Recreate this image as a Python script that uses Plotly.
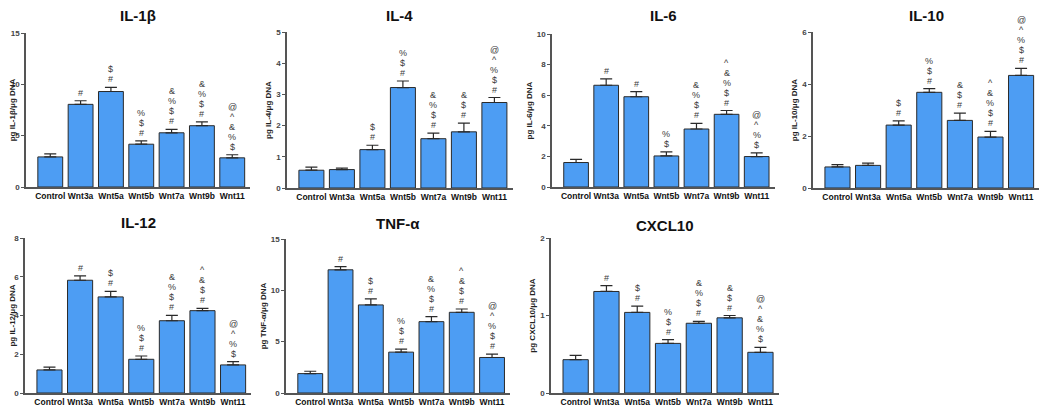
import plotly.graph_objects as go

categories = ["Control", "Wnt3a", "Wnt5a", "Wnt5b", "Wnt7a", "Wnt9b", "Wnt11"]

titles = ["IL-1β", "IL-4", "IL-6", "IL-10", "IL-12", "TNF-α", "CXCL10"]
ytitles = ["pg IL-1β/μg DNA", "pg IL-4/μg DNA", "pg IL-6/μg DNA", "pg IL-10/μg DNA",
           "pg IL-12/μg DNA", "pg TNF-α/μg DNA", "pg CXCL10/μg DNA"]

il1b = [2.93, 8.05, 9.3, 4.17, 5.28, 5.97, 2.84]
il1b_err = [0.3, 0.35, 0.4, 0.33, 0.33, 0.38, 0.3]
il4 = [0.57, 0.59, 1.23, 3.22, 1.58, 1.8, 2.74]
il4_err = [0.1, 0.05, 0.14, 0.21, 0.18, 0.28, 0.16]
il6 = [1.6, 6.65, 5.9, 2.03, 3.79, 4.75, 1.99]
il6_err = [0.2, 0.42, 0.34, 0.27, 0.37, 0.25, 0.24]
il10 = [0.81, 0.87, 2.42, 3.68, 2.6, 1.96, 4.33]
il10_err = [0.09, 0.09, 0.16, 0.14, 0.28, 0.22, 0.27]
il12 = [1.19, 5.82, 4.96, 1.74, 3.73, 4.25, 1.45]
il12_err = [0.15, 0.22, 0.29, 0.17, 0.28, 0.12, 0.17]
tnf = [1.89, 12.0, 8.58, 3.98, 6.95, 7.86, 3.46]
tnf_err = [0.23, 0.3, 0.58, 0.29, 0.48, 0.32, 0.32]
cxcl10 = [0.43, 1.31, 1.04, 0.64, 0.9, 0.97, 0.525]
cxcl10_err = [0.056, 0.075, 0.08, 0.05, 0.025, 0.03, 0.065]

# significance symbols, listed bottom-to-top
il1b_sig = ["", "#", "#$", "#$%", "#$%&", "#$%&", "$%&^@"]
il4_sig = ["", "", "#$", "#$%", "#$%&", "#$&", "#$%^@"]
il6_sig = ["", "#", "#", "$%", "#$%&", "#$%&^", "$%^@"]
il10_sig = ["", "", "#$", "#$%", "#$&", "#$%&^", "#$%^@"]
il12_sig = ["", "#", "#$", "#$%", "#$%&", "#$&^", "$%^@"]
tnf_sig = ["", "#", "#$", "#$%", "#$%&", "#$&^", "#$%^@"]
cxcl10_sig = ["", "#", "#$", "#$%", "#$%&", "#$&", "$%&^@"]

y_ticks = [[0, 5, 10, 15], [0, 1, 2, 3, 4, 5], [0, 2, 4, 6, 8, 10], [0, 2, 4, 6],
           [0, 2, 4, 6, 8], [0, 5, 10, 15], [0, 1, 2]]

values = [il1b, il4, il6, il10, il12, tnf, cxcl10]
errors = [il1b_err, il4_err, il6_err, il10_err, il12_err, tnf_err, cxcl10_err]
sigs = [il1b_sig, il4_sig, il6_sig, il10_sig, il12_sig, tnf_sig, cxcl10_sig]

# the page body adds an 8px margin, so the figure is laid out offset by it
OFF = 8
W, H = 1050 - OFF, 412 - OFF
# pixel layout in page coords: (axis x, step px, top px, bottom px)
panels = [(26, 30.33, 33, 187), (287, 30.5, 32, 188), (552, 30.1, 34, 187), (813, 30.6, 32, 188),
          (25, 30.6, 238, 393), (286, 30.3, 239, 393), (551, 30.8, 238, 393)]
title_y = [15, 15, 15, 15, 222, 223, 225]
XR = [-0.8, 6.6]

FONT = "Liberation Sans, Arial, sans-serif"
BAR = "#4d9df3"
AX = "#555555"

fig = go.Figure()
layout = dict(
    width=W, height=H, margin=dict(l=0, r=0, t=0, b=0, autoexpand=False),
    paper_bgcolor="white", plot_bgcolor="white", showlegend=False,
    font=dict(family=FONT, color="#222"),
)
annotations = []

for i in range(7):
    x0, step, top, bot = panels[i]
    x0 -= OFF
    top -= OFF
    bot -= OFF
    x1 = x0 + step * (XR[1] - XR[0])
    n = i + 1
    xa = "x" if n == 1 else f"x{n}"
    ya = "y" if n == 1 else f"y{n}"
    fig.add_trace(go.Bar(
        x=categories, y=values[i], xaxis=xa, yaxis=ya, width=0.82,
        marker=dict(color=BAR, line=dict(color="#2a2a2a", width=1)),
        error_y=dict(type="data", array=errors[i], arrayminus=[0] * 7, symmetric=False,
                     color="#2a2a2a", thickness=1.2, width=6),
    ))
    layout[f"xaxis{n if n > 1 else ''}"] = dict(
        domain=[x0 / W, x1 / W], anchor=ya, range=XR, type="category",
        showline=True, linecolor=AX, linewidth=1.5, ticks="", showgrid=False,
        tickangle=0, automargin=False,
        tickfont=dict(size=8.5, family=FONT, color="#111", weight="bold"),
        fixedrange=True,
    )
    yt = y_ticks[i]
    layout[f"yaxis{n if n > 1 else ''}"] = dict(
        domain=[1 - bot / H, 1 - top / H], anchor=xa, range=[0, yt[-1]],
        tickvals=yt, showline=True, linecolor=AX, linewidth=1.5, ticks="outside",
        ticklen=3, tickcolor=AX, tickwidth=1.2, showgrid=False, zeroline=False,
        automargin=False,
        tickfont=dict(size=8, family=FONT, color="#444", weight="bold"),
        title=dict(text=ytitles[i], standoff=3,
                   font=dict(size=8, family=FONT, color="#222", weight="bold")),
    )
    # panel title
    annotations.append(dict(
        text=titles[i], xref="paper", yref="paper",
        x=(x0 + x1) / 2 / W, y=1 - (title_y[i] - OFF) / H, xanchor="center", yanchor="middle",
        showarrow=False, font=dict(size=15, family=FONT, color="#111", weight="bold"),
    ))
    # significance markers
    for j, cat in enumerate(categories):
        top_val = values[i][j] + errors[i][j]
        for k, ch in enumerate(sigs[i][j]):
            annotations.append(dict(
                text=ch, xref=xa, yref=ya, x=cat, y=top_val,
                xanchor="center", yanchor="middle", yshift=8 + k * 10,
                showarrow=False, font=dict(size=9, family=FONT, color="#3a3a3a"),
            ))

layout["annotations"] = annotations
fig.update_layout(**layout)
fig.write_html("out.html")
